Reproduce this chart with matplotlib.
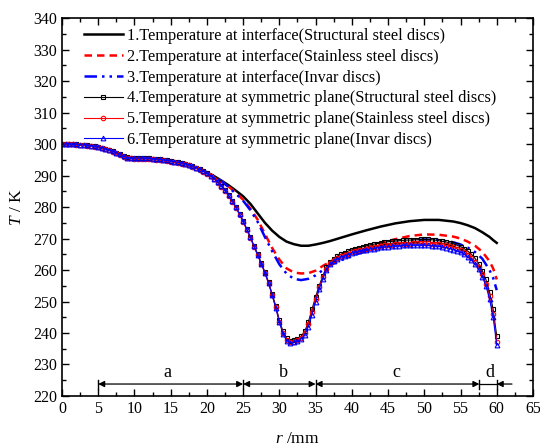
import numpy as np
import matplotlib
matplotlib.use('Agg')
import matplotlib.pyplot as plt
from matplotlib.ticker import MultipleLocator

plt.rcParams['font.family'] = ['Liberation Serif', 'DejaVu Serif']
plt.rcParams['mathtext.fontset'] = 'custom'
plt.rcParams['mathtext.it'] = 'Liberation Serif:italic'
plt.rcParams['mathtext.rm'] = 'Liberation Serif'

# interface curves (lines)
r_if = [0, 2, 4, 5, 6, 7, 8, 8.5, 9, 9.5, 10, 11, 12, 13, 14, 15, 16, 17, 18, 19, 20,
        21, 22, 23, 24, 25, 26, 27, 28, 29, 30, 31, 32, 33, 34, 35, 36, 37, 38, 40,
        42, 44, 46, 48, 50, 52, 54, 55, 56, 57, 58, 59, 59.5, 60]
T_if_struct = [300.0, 299.9, 299.5, 299.1, 298.5, 297.7, 296.8, 296.2, 295.8, 295.6, 295.5,
               295.5, 295.4, 295.2, 295.0, 294.6, 294.2, 293.7, 293.0, 292.1, 291.0,
               289.8, 288.4, 286.9, 285.2, 283.4, 281.0, 278.0, 275.0, 272.5, 270.5,
               269.0, 268.2, 267.7, 267.7, 268.1, 268.6, 269.2, 269.9, 271.3,
               272.6, 273.8, 274.8, 275.5, 275.9, 275.9, 275.4, 274.9, 274.2, 273.3,
               272.0, 270.5, 269.5, 268.6]
T_if_stain = [300.0, 299.9, 299.4, 299.0, 298.4, 297.5, 296.5, 296.0, 295.6, 295.4, 295.3,
              295.3, 295.2, 295.0, 294.8, 294.5, 294.1, 293.6, 292.9, 292.0, 290.9,
              289.6, 288.2, 286.5, 284.5, 282.3, 279.5, 276.0, 271.5, 267.0, 263.3,
              260.5, 259.2, 258.9, 259.0, 259.8, 261.3, 262.6, 263.6, 265.4,
              267.0, 268.5, 269.8, 270.8, 271.3, 271.2, 270.6, 270.0, 269.0, 267.7,
              265.8, 262.8, 260.5, 257.0]
T_if_invar = [300.0, 299.9, 299.5, 299.1, 298.5, 297.6, 296.7, 296.1, 295.7, 295.5, 295.5,
              295.5, 295.4, 295.2, 295.0, 294.6, 294.2, 293.7, 293.0, 292.1, 291.0,
              289.7, 288.2, 286.3, 284.2, 282.0, 279.0, 275.3, 270.5, 266.0, 261.8,
              258.8, 257.2, 256.8, 257.2, 258.3, 260.0, 261.5, 262.6, 264.5,
              266.0, 267.3, 268.5, 269.3, 269.7, 269.5, 268.8, 268.1, 267.1, 265.7,
              263.6, 260.0, 257.5, 253.6]

# symmetric plane curves (markers), r = 0, 0.5, ..., 60
r_sym = np.arange(0, 60.01, 0.5)
T_sym_struct = [300.0, 300.0, 300.0, 299.9, 299.9, 299.8, 299.7, 299.6, 299.5, 299.3,
                299.1, 298.8, 298.5, 298.1, 297.7, 297.3, 296.8, 296.2, 295.8, 295.6,
                295.5, 295.5, 295.5, 295.5, 295.4, 295.3, 295.2, 295.1, 295.0, 294.8,
                294.6, 294.4, 294.2, 294.0, 293.7, 293.4, 293.0, 292.5, 292.0, 291.4,
                290.7, 289.9, 289.0, 287.9, 286.7, 285.3, 283.7, 281.9, 280.0, 277.8,
                275.5, 273.0, 270.4, 267.6, 265.0, 262.2, 259.4, 256.2, 252.4, 248.6,
                244.0, 240.5, 238.3, 237.6, 237.8, 238.2, 239.0, 240.5, 243.5, 247.5,
                251.5, 255.0, 258.2, 260.8, 262.5, 263.6, 264.4, 265.0, 265.5, 266.0,
                266.4, 266.8, 267.1, 267.4, 267.7, 268.0, 268.2, 268.4, 268.6, 268.8,
                269.0, 269.1, 269.2, 269.3, 269.4, 269.5, 269.5, 269.6, 269.6, 269.7,
                269.7, 269.7, 269.6, 269.5, 269.3, 269.1, 268.9, 268.6, 268.3, 267.9,
                267.4, 266.8, 266.0, 265.0, 263.7, 262.0, 259.8, 257.0, 253.0, 247.5,
                239.0]
T_sym_stain = [300.0, 300.0, 299.9, 299.9, 299.8, 299.7, 299.6, 299.5, 299.4, 299.2,
               299.0, 298.7, 298.4, 298.0, 297.6, 297.1, 296.6, 296.0, 295.6, 295.4,
               295.3, 295.3, 295.3, 295.3, 295.2, 295.1, 295.0, 294.9, 294.8, 294.6,
               294.4, 294.2, 294.0, 293.8, 293.5, 293.2, 292.8, 292.3, 291.8, 291.2,
               290.5, 289.7, 288.8, 287.7, 286.5, 285.1, 283.5, 281.7, 279.8, 277.6,
               275.3, 272.8, 270.2, 267.4, 264.7, 261.9, 259.0, 255.8, 252.0, 248.1,
               243.6, 240.0, 237.8, 237.1, 237.3, 237.7, 238.5, 240.0, 242.8, 246.7,
               250.8, 254.5, 257.8, 260.4, 262.1, 263.1, 263.8, 264.3, 264.8, 265.2,
               265.6, 265.9, 266.2, 266.5, 266.8, 267.0, 267.2, 267.4, 267.6, 267.8,
               267.9, 268.0, 268.1, 268.2, 268.3, 268.4, 268.4, 268.5, 268.5, 268.5,
               268.5, 268.5, 268.4, 268.3, 268.2, 268.0, 267.8, 267.5, 267.2, 266.8,
               266.3, 265.7, 264.9, 263.9, 262.6, 260.9, 258.6, 255.7, 251.6, 246.0,
               237.3]
T_sym_invar = [300.0, 300.0, 300.0, 299.9, 299.9, 299.8, 299.7, 299.6, 299.5, 299.3,
               299.1, 298.8, 298.5, 298.1, 297.7, 297.2, 296.7, 296.1, 295.7, 295.5,
               295.5, 295.5, 295.5, 295.5, 295.4, 295.3, 295.2, 295.1, 295.0, 294.8,
               294.6, 294.4, 294.2, 294.0, 293.7, 293.4, 293.0, 292.5, 292.0, 291.4,
               290.7, 289.9, 289.0, 287.9, 286.7, 285.3, 283.7, 281.9, 280.0, 277.8,
               275.5, 273.0, 270.4, 267.6, 264.9, 262.0, 259.1, 255.9, 252.0, 248.0,
               243.4, 239.8, 237.6, 236.9, 237.1, 237.4, 238.1, 239.4, 242.0, 245.8,
               250.0, 253.9, 257.3, 260.0, 261.8, 262.8, 263.5, 264.0, 264.5, 264.9,
               265.3, 265.6, 265.9, 266.2, 266.4, 266.6, 266.8, 267.0, 267.2, 267.3,
               267.4, 267.5, 267.6, 267.7, 267.8, 267.8, 267.9, 267.9, 267.9, 267.9,
               267.9, 267.8, 267.7, 267.6, 267.5, 267.3, 267.1, 266.8, 266.5, 266.1,
               265.6, 265.0, 264.2, 263.2, 261.9, 260.2, 257.9, 255.0, 250.8, 245.0,
               236.2]

labels = ['1.Temperature at interface(Structural steel discs)',
          '2.Temperature at interface(Stainless steel discs)',
          '3.Temperature at interface(Invar discs)',
          '4.Temperature at symmetric plane(Structural steel discs)',
          '5.Temperature at symmetric plane(Stainless steel discs)',
          '6.Temperature at symmetric plane(Invar discs)']

# region markers
zone_edges = [5, 25, 35, 57.6, 60]
zone_names = ['a', 'b', 'c', 'd']
zone_text_x = [14.5, 30.5, 46.2, 59.1]

fig = plt.figure(figsize=(5.4, 4.47), dpi=100)
ax = fig.add_axes([0.1148, 0.1141, 0.8722, 0.8456])

ax.plot(r_if, T_if_struct, color='black', lw=1.8, label=labels[0])
ax.plot(r_if, T_if_stain, color='red', lw=1.8, ls=(0, (3, 2)), label=labels[1])
ax.plot(r_if, T_if_invar, color='blue', lw=1.8, ls=(0, (5, 2, 1, 2, 1, 2)), label=labels[2])
ax.plot(r_sym, T_sym_struct, color='black', lw=0.8, marker='s', ms=3.2,
        mfc='none', mew=0.8, label=labels[3])
ax.plot(r_sym, T_sym_stain, color='red', lw=0.8, marker='o', ms=3.2,
        mfc='none', mew=0.8, label=labels[4])
ax.plot(r_sym, T_sym_invar, color='blue', lw=0.8, marker='^', ms=3.4,
        mfc='none', mew=0.8, label=labels[5])

# zone arrows
y_arr = 223.8
for e in zone_edges:
    ax.plot([e, e], [222.3, 225.2], color='black', lw=1.0)
for a, b in zip(zone_edges[:3], zone_edges[1:4]):
    ax.annotate('', xy=(a, y_arr), xytext=(b, y_arr),
                arrowprops=dict(arrowstyle='<|-|>', color='black', lw=0.9,
                                mutation_scale=9, shrinkA=0, shrinkB=0))
ax.plot([zone_edges[3], zone_edges[4]], [y_arr, y_arr], color='black', lw=0.9)
ax.annotate('', xy=(zone_edges[4], y_arr), xytext=(62.1, y_arr),
            arrowprops=dict(arrowstyle='-|>', color='black', lw=0.9,
                            mutation_scale=9, shrinkA=0, shrinkB=0))
for x, n in zip(zone_text_x, zone_names):
    ax.text(x, 227.6, n, ha='center', va='center', fontsize=13)

ax.set_xlim(0, 65)
ax.set_ylim(220, 340)
ax.xaxis.set_major_locator(MultipleLocator(5))
ax.xaxis.set_minor_locator(MultipleLocator(2.5))
ax.yaxis.set_major_locator(MultipleLocator(10))
ax.yaxis.set_minor_locator(MultipleLocator(5))
ax.tick_params(which='both', direction='in', top=True, right=True, labelsize=11.5)
ax.tick_params(which='major', length=5, width=1)
ax.tick_params(which='minor', length=3, width=1)
for s in ax.spines.values():
    s.set_linewidth(1.2)

ax.set_xlabel('$r$ /mm', fontsize=12.5, labelpad=10)
ax.set_ylabel('$T$ / K', fontsize=12.5, labelpad=6)

ax.legend(loc='upper left', bbox_to_anchor=(0.025, 1.0), frameon=False,
          fontsize=11.7, handlelength=2.4, labelspacing=0.3, numpoints=1,
          handletextpad=0.3, borderaxespad=0.2)

fig.savefig('out.png', dpi=100)
